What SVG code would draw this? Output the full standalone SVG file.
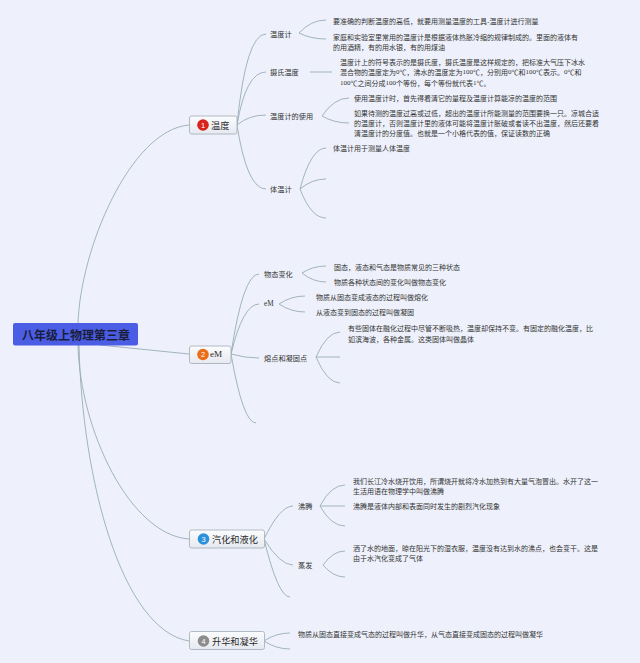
<svg xmlns="http://www.w3.org/2000/svg" width="640" height="663" viewBox="0 0 640 663">
<defs>
<linearGradient id="nodeFill" x1="0" y1="0" x2="0" y2="1">
<stop offset="0" stop-color="#fbfcfe"/>
<stop offset="1" stop-color="#e6e9ef"/>
</linearGradient>
<style>
.bg{fill:#eef1fb}
.ln{fill:none;stroke:#97adb6;stroke-width:0.9}
.box{fill:url(#nodeFill);stroke:#a9b3bc;stroke-width:0.9}
.t{font-family:"Noto Sans CJK SC","Noto Sans",sans-serif;fill:#333;dominant-baseline:central}
.leaf{font-size:7px}
.sub{font-size:7.2px}
.main{font-size:9.2px;fill:#2a2a2a}
.ser{font-family:"Liberation Serif",serif}
.num{font-family:"Liberation Sans",sans-serif;font-size:7.5px;fill:#fff;text-anchor:middle;dominant-baseline:central}
.root{font-family:"Noto Sans CJK SC",sans-serif;font-size:12px;font-weight:bold;fill:#1a1d3c;text-anchor:middle;dominant-baseline:central}
</style>
</defs>
<rect class="bg" x="0" y="0" width="640" height="663"/>

<g id="connectors">
<!-- root to main topics -->
<path class="ln" d="M78 324 C80 250 130 130 189 125"/>
<path class="ln" d="M100 345 L189 354"/>
<path class="ln" d="M78 345 C80 430 130 535 189 539"/>
<path class="ln" d="M79 345 C82 480 122 630 189 641"/>
<!-- topic 1 -->
<path class="ln" d="M237 125 Q246 34 266 34"/>
<path class="ln" d="M237 125 Q246 72 266 72"/>
<path class="ln" d="M237 125 Q249 115 266 115"/>
<path class="ln" d="M237 125 Q247 189 266 189"/>
<path class="ln" d="M299 33 Q311 20 326 20"/>
<path class="ln" d="M299 33 Q311 39 326 39"/>
<path class="ln" d="M310 72 L332 72"/>
<path class="ln" d="M322 116 Q334 98 349 98"/>
<path class="ln" d="M322 116 Q334 123 349 123"/>
<path class="ln" d="M300 189 Q311 148 326 148"/>
<path class="ln" d="M300 189 Q312 179 326 179"/>
<path class="ln" d="M300 189 Q311 218 326 218"/>
<!-- topic 2 -->
<path class="ln" d="M231 354 Q243 274 259 274"/>
<path class="ln" d="M231 354 Q243 304 259 304"/>
<path class="ln" d="M231 354 Q245 358 259 358"/>
<path class="ln" d="M231 354 Q243 423 256 423"/>
<path class="ln" d="M302 273 Q313 266 326 266"/>
<path class="ln" d="M302 273 Q313 282 326 282"/>
<path class="ln" d="M279 304 Q291 296 305 296"/>
<path class="ln" d="M279 304 Q291 312 305 312"/>
<path class="ln" d="M316 357 Q327 332 340 332"/>
<path class="ln" d="M316 357 L340 357"/>
<path class="ln" d="M316 357 Q327 383 340 383"/>
<!-- topic 3 -->
<path class="ln" d="M264 539 Q280 506 293 506"/>
<path class="ln" d="M264 539 Q280 565 293 565"/>
<path class="ln" d="M264 539 Q278 597 290 597"/>
<path class="ln" d="M320 506 Q331 485 345 485"/>
<path class="ln" d="M320 506 L345 506"/>
<path class="ln" d="M320 506 Q331 526 345 526"/>
<path class="ln" d="M323 565 Q333 551 345 551"/>
<path class="ln" d="M323 565 Q333 577 345 577"/>
<!-- topic 4 -->
<path class="ln" d="M264 641 Q276 633 290 633"/>
<path class="ln" d="M264 641 Q276 649 290 649"/>
</g>

<g id="root">
<rect x="13" y="323" width="125" height="22.5" rx="2" fill="#4a5de4"/>
<text class="root" x="76" y="334.5">八年级上物理第三章</text>
</g>

<g id="topic1">
<rect class="box" x="189.5" y="116" width="47.5" height="18" rx="2"/>
<circle cx="203" cy="125" r="5.8" fill="#d8231b"/>
<text class="num" x="203" y="125.3">1</text>
<text class="t main" x="211" y="125">温度</text>
</g>
<g id="topic2">
<rect class="box" x="189.5" y="346" width="41.5" height="17.5" rx="2"/>
<circle cx="203" cy="354.5" r="5.8" fill="#ea6d18"/>
<text class="num" x="203" y="354.8">2</text>
<text class="t main ser" x="210" y="354">eM</text>
</g>
<g id="topic3">
<rect class="box" x="189.5" y="530" width="75" height="18" rx="2"/>
<circle cx="203.5" cy="539" r="5.8" fill="#2b90dc"/>
<text class="num" x="203.5" y="539.3">3</text>
<text class="t main" x="212" y="539">汽化和液化</text>
</g>
<g id="topic4">
<rect class="box" x="189.5" y="631.5" width="75" height="18" rx="2"/>
<circle cx="203.5" cy="641" r="5.8" fill="#8c8c8c"/>
<text class="num" x="203.5" y="641.3">4</text>
<text class="t main" x="212" y="641">升华和凝华</text>
</g>

<g id="sub-wenduji">
<text class="t sub" x="270" y="33.5">温度计</text>
<text class="t leaf" x="333" y="20.5">要准确的判断温度的高低，就要用测量温度的工具-温度计进行测量</text>
<text class="t leaf" x="333" y="36.5">家庭和实验室里常用的温度计是根据液体热胀冷缩的规律制成的。里面的液体有</text>
<text class="t leaf" x="333" y="47">的用酒精，有的用水银，有的用煤油</text>
</g>
<g id="sub-sheshi">
<text class="t sub" x="270" y="72">摄氏温度</text>
<text class="t leaf" x="340" y="61.5">温度计上的符号表示的是摄氏度，摄氏温度是这样规定的，把标准大气压下冰水</text>
<text class="t leaf" x="340" y="72">混合物的温度定为<tspan class="ser">0</tspan>℃，沸水的温度定为<tspan class="ser">100</tspan>℃，分别用<tspan class="ser">0</tspan>℃和<tspan class="ser">100</tspan>℃表示。<tspan class="ser">0</tspan>℃和</text>
<text class="t leaf" x="340" y="82.5"><tspan class="ser">100</tspan>℃之间分成<tspan class="ser">100</tspan>个等份，每个等份就代表<tspan class="ser">1</tspan>℃。</text>
</g>
<g id="sub-shiyong">
<text class="t sub" x="270" y="115.5">温度计的使用</text>
<text class="t leaf" x="354" y="98">使用温度计时，首先得看清它的量程及温度计算能凉的温度的范围</text>
<text class="t leaf" x="354" y="113">如果待测的温度过高或过低，超出的温度计所能测量的范围要换一只。凉城合适</text>
<text class="t leaf" x="354" y="123">的温度计，否则温度计里的液体可能将温度计胀破或者读不出温度，然后还要看</text>
<text class="t leaf" x="354" y="133">清温度计的分度值。也就是一个小格代表的值，保证读数的正确</text>
</g>
<g id="sub-tiwenji">
<text class="t sub" x="270" y="189">体温计</text>
<text class="t leaf" x="333" y="148">体温计用于测量人体温度</text>
</g>

<g id="sub-wutai">
<text class="t sub" x="264" y="273.5">物态变化</text>
<text class="t leaf" x="334" y="267">固态，液态和气态是物质常见的三种状态</text>
<text class="t leaf" x="334" y="282">物质各种状态间的变化叫做物态变化</text>
</g>
<g id="sub-em">
<text class="t sub ser" x="264" y="304">eM</text>
<text class="t leaf" x="316" y="297">物质从固态变成液态的过程叫做熔化</text>
<text class="t leaf" x="316" y="312">从液态变到固态的过程叫做凝固</text>
</g>
<g id="sub-rongdian">
<text class="t sub" x="264" y="358">熔点和凝固点</text>
<text class="t leaf" x="348" y="328">有些固体在融化过程中尽管不断吸热，温度却保持不变。有固定的融化温度，比</text>
<text class="t leaf" x="348" y="338.5">如滨海波，各种金属。这类固体叫做晶体</text>
</g>

<g id="sub-feiteng">
<text class="t sub" x="298" y="506">沸腾</text>
<text class="t leaf" x="353" y="481">我们长江冷水烧开饮用，所谓烧开就将冷水加热到有大量气泡冒出。水开了这一</text>
<text class="t leaf" x="353" y="491">生活用语在物理学中叫做沸腾</text>
<text class="t leaf" x="353" y="506">沸腾是液体内部和表面同时发生的剧烈汽化现象</text>
</g>
<g id="sub-zhengfa">
<text class="t sub" x="298" y="565">蒸发</text>
<text class="t leaf" x="353" y="548">洒了水的地面，晾在阳光下的湿衣服，温度没有达到水的沸点，也会变干。这是</text>
<text class="t leaf" x="353" y="557.5">由于水汽化变成了气体</text>
</g>

<g id="leaf-shenghua">
<text class="t leaf" x="298" y="634">物质从固态直接变成气态的过程叫做升华，从气态直接变成固态的过程叫做凝华</text>
</g>
</svg>
